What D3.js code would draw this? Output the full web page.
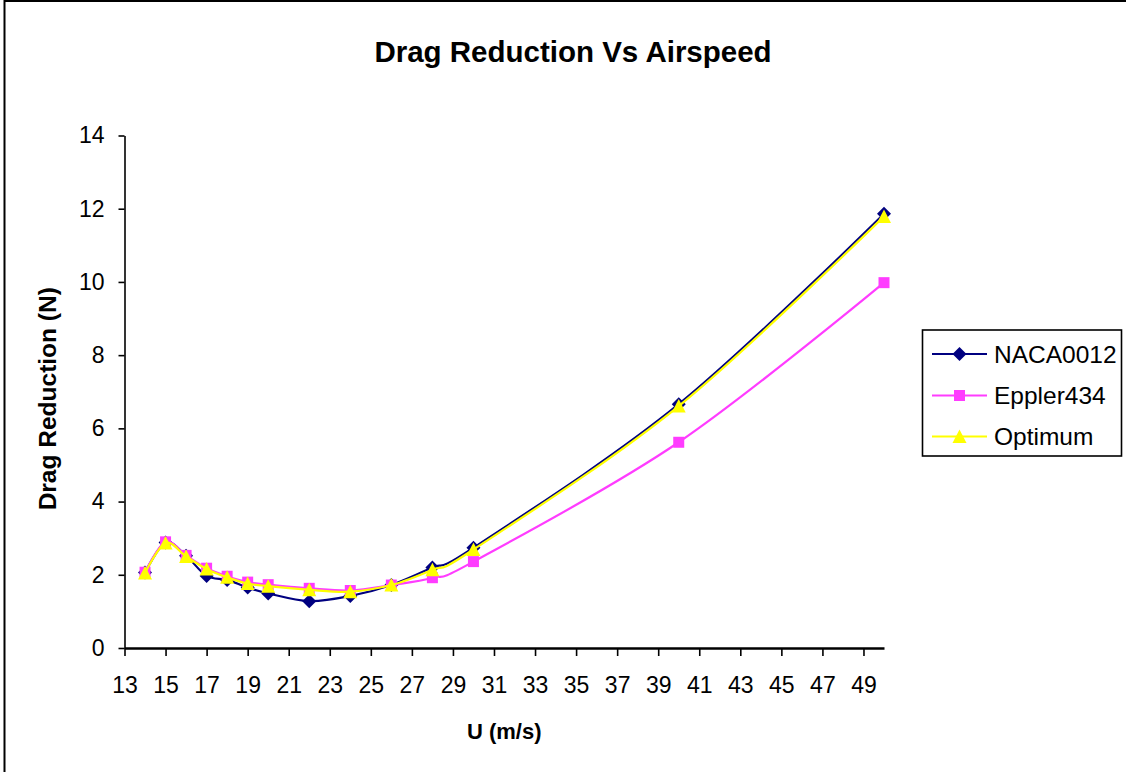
<!DOCTYPE html>
<html>
<head>
<meta charset="utf-8">
<script src="https://cdn.jsdelivr.net/npm/d3@7"></script>
<style>
  html, body { margin: 0; padding: 0; background: #fff; }
  svg { display: block; font-family: "Liberation Sans", Arial, sans-serif; }
</style>
</head>
<body>
<svg id="chart" width="1126" height="772"></svg>
<script>
// Airspeed samples (m/s)
const airspeed = [14, 15, 16, 17, 18, 19, 20, 22, 24, 26, 28, 30, 40, 50];

// Drag reduction (N) for each aerofoil
const naca0012  = [2.06, 2.88, 2.52, 1.97, 1.86, 1.65, 1.49, 1.28, 1.42, 1.72, 2.20, 2.74, 6.66, 11.86];
const eppler434 = [2.07, 2.90, 2.53, 2.18, 1.96, 1.80, 1.73, 1.63, 1.57, 1.72, 1.92, 2.36, 5.62, 9.98];
const optimum   = [2.05, 2.87, 2.50, 2.16, 1.93, 1.76, 1.69, 1.59, 1.54, 1.72, 2.14, 2.69, 6.61, 11.79];

const seriesNames = ["NACA0012", "Eppler434", "Optimum"];
const xTicks = d3.range(13, 50, 2);
const yTicks = [0, 2, 4, 6, 8, 10, 12, 14];

// Marker shapes drawn around the origin
const markerDiamond = "M0,-7L7,0L0,7L-7,0Z";
const markerSquare = "M-5.5,-5.5H5.5V5.5H-5.5Z";
const markerTriangle = "M0,-7L7,6.5H-7Z";

const series = [
  { name: seriesNames[0], values: naca0012,  color: "#000080", marker: markerDiamond },
  { name: seriesNames[1], values: eppler434, color: "#ff3cff", marker: markerSquare },
  { name: seriesNames[2], values: optimum,   color: "#ffff00", marker: markerTriangle }
];

const svg = d3.select("#chart");

// Outer chart frame
svg.append("rect")
  .attr("x", 4.5).attr("y", 1)
  .attr("width", 1140).attr("height", 800)
  .attr("fill", "#fff").attr("stroke", "#000").attr("stroke-width", 2);

const x = d3.scaleLinear().domain([13, 50]).range([124.5, 884]);
const y = d3.scaleLinear().domain([0, 14]).range([648, 135.5]);

// Title
svg.append("text")
  .attr("x", 573).attr("y", 62)
  .attr("text-anchor", "middle")
  .attr("font-size", 29.5).attr("font-weight", "bold")
  .text("Drag Reduction Vs Airspeed");

// Y axis
const yAxis = svg.append("g")
  .attr("transform", `translate(${x(13)},0)`)
  .call(d3.axisLeft(y).tickValues(yTicks).tickSize(6).tickSizeOuter(0).tickPadding(14));
yAxis.select(".domain").attr("stroke", "#000").attr("stroke-width", 1.6);
yAxis.selectAll(".tick line").attr("stroke", "#000").attr("stroke-width", 1.6);
yAxis.selectAll("text").attr("font-size", 23).attr("font-family", "Liberation Sans, Arial, sans-serif").attr("fill", "#000");

// X axis
const xAxis = svg.append("g")
  .attr("transform", `translate(0,${y(0)})`)
  .call(d3.axisBottom(x).tickValues(xTicks).tickSize(8).tickSizeOuter(0).tickPadding(21));
xAxis.select(".domain").attr("stroke", "#000").attr("stroke-width", 2.6);
xAxis.selectAll(".tick line").attr("stroke", "#000").attr("stroke-width", 1.6);
xAxis.selectAll("text").attr("font-size", 23).attr("font-family", "Liberation Sans, Arial, sans-serif").attr("fill", "#000");

// Axis titles
svg.append("text")
  .attr("transform", `translate(56,${(y(0) + y(14)) / 2 + 7}) rotate(-90)`)
  .attr("text-anchor", "middle")
  .attr("font-size", 24.5).attr("font-weight", "bold")
  .text("Drag Reduction (N)");

svg.append("text")
  .attr("x", (x(13) + x(50)) / 2).attr("y", 739)
  .attr("text-anchor", "middle")
  .attr("font-size", 22).attr("font-weight", "bold")
  .text("U (m/s)");

// Smoothed series lines with markers
const line = d3.line()
  .x(d => x(d[0]))
  .y(d => y(d[1]))
  .curve(d3.curveCardinal.tension(0));

const plot = svg.append("g");
series.forEach(s => {
  const pts = airspeed.map((u, i) => [u, s.values[i]]);
  plot.append("path")
    .datum(pts)
    .attr("d", line)
    .attr("fill", "none")
    .attr("stroke", s.color)
    .attr("stroke-width", 2.2);
  plot.append("g").selectAll("path")
    .data(pts)
    .join("path")
    .attr("transform", d => `translate(${x(d[0])},${y(d[1])})`)
    .attr("d", s.marker)
    .attr("fill", s.color);
});

// Legend
const legend = svg.append("g");
legend.append("rect")
  .attr("x", 922.5).attr("y", 330)
  .attr("width", 199).attr("height", 126)
  .attr("fill", "#fff").attr("stroke", "#000").attr("stroke-width", 1.6);

const rowY = [354, 395.5, 436.5];
series.forEach((s, i) => {
  const g = legend.append("g").attr("transform", `translate(0,${rowY[i]})`);
  g.append("line")
    .attr("x1", 932).attr("x2", 987)
    .attr("stroke", s.color).attr("stroke-width", 2.2);
  g.append("path")
    .attr("transform", "translate(959.5,0)")
    .attr("d", s.marker)
    .attr("fill", s.color);
  g.append("text")
    .attr("x", 994).attr("y", 8.5)
    .attr("font-size", 24.5)
    .text(s.name);
});
</script>
</body>
</html>
